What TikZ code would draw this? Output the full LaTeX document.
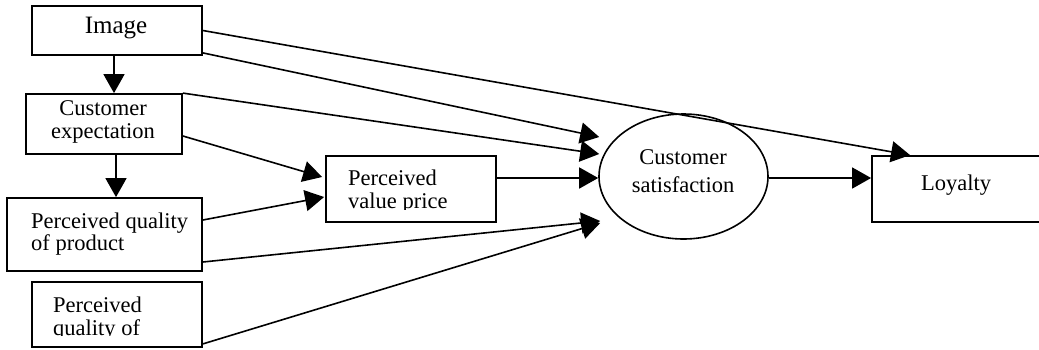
\documentclass[tikz,border=0pt]{standalone}
\usepackage{fontspec}
\setmainfont{Liberation Serif}
\usetikzlibrary{arrows.meta,shapes.geometric,calc}
\begin{document}
\begin{tikzpicture}[x=1pt,y=-1pt,
  box/.style={draw,line width=1.8pt,inner sep=0pt,rectangle},
  lbl/.style={inner sep=0pt,font=\fontsize{22.5}{26}\selectfont},
  arr/.style={line width=1.6pt,-{Triangle[length=19pt,width=21pt]}},
]
\useasboundingbox (0,0) rectangle (1039,349);
\clip (0,0) rectangle (1039,349);

% boxes
\node[box,minimum width=170pt,minimum height=49pt] (img) at (117,30.5) {};
\node[box,minimum width=156pt,minimum height=60pt] (exp) at (104,124) {};
\node[box,minimum width=195pt,minimum height=73pt] (pqp) at (104.5,234.5) {};
\node[box,minimum width=170pt,minimum height=65pt] (pqs) at (117,314.5) {};
\node[box,minimum width=170pt,minimum height=66pt] (pvp) at (411,189) {};
\node[draw,ellipse,line width=1.6pt,inner sep=0pt,minimum width=169pt,minimum height=125pt] (sat) at (683.5,176.5) {};
\node[box,minimum width=188pt,minimum height=66pt] (loy) at (966,189) {};

% arrow tip targets near satisfaction
\coordinate (t1) at ([xshift=1pt,yshift=39.5pt]sat.west);
\coordinate (t2) at ([xshift=1pt,yshift=22.5pt]sat.west);
\coordinate (t3) at ([xshift=2pt,yshift=-44.5pt]sat.west);
\coordinate (t4) at ([xshift=2pt,yshift=-46.5pt]sat.west);
\coordinate (t5) at ([xshift=39pt]loy.north west);

% connectors
\draw[arr] ([xshift=-3pt]img.south) -- ([xshift=-3pt]img.south |- exp.north);
\draw[arr] ([xshift=12pt]exp.south) -- ([xshift=12pt]exp.south |- pqp.north);
\draw[arr] (img.east) -- (t5);
\draw[arr] ([yshift=3pt]img.south east) -- (t1);
\draw[arr] (exp.north east) -- (t2);
\draw[arr] ([yshift=-12pt]exp.east) -- ([xshift=-3pt,yshift=12pt]pvp.west);
\draw[arr] ([yshift=14.5pt]pqp.east) -- ([xshift=-1pt,yshift=-8pt]pvp.west);
\draw[arr] ([yshift=11pt]pvp.east) -- ([yshift=11pt]pvp.east -| sat.west);
\draw[arr] ([yshift=-27.5pt]pqp.east) -- (t3);
\draw[arr] ([yshift=4pt]pqs.south east) -- (t4);
\draw[arr] ([yshift=-1.5pt]sat.east) -- ([yshift=-1.5pt]sat.east -| loy.west);

% texts
\node[lbl,font=\fontsize{25}{30}\selectfont,anchor=base] (imgt) at (116,33) {Image};
\node[lbl,anchor=base] (expt1) at (103,115) {Customer};
\node[lbl,anchor=base] (expt2) at (103,138) {expectation};
\node[lbl,anchor=base west] (pqpt1) at (31,228) {Perceived quality};
\node[lbl,anchor=base west] (pqpt2) at (31,250) {of product};
\begin{scope}
  \clip (33,283) rectangle (201,335.7);
  \node[lbl,anchor=base west] (pqst1) at (53,312) {Perceived};
  \node[lbl,anchor=base west] (pqst2) at (53,335) {quality of};
\end{scope}
\begin{scope}
  \clip (327,157) rectangle (495,209.3);
  \node[lbl,anchor=base west] (pvpt1) at (348,185.7) {Perceived};
  \node[lbl,anchor=base west] (pvpt2) at (348,208.7) {value price};
\end{scope}
\node[lbl,anchor=base] (satt1) at (683,164) {Customer};
\node[lbl,anchor=base] (satt2) at (683,192) {satisfaction};
\node[lbl,anchor=base] (loyt) at (956,190) {Loyalty};
\end{tikzpicture}
\end{document}
